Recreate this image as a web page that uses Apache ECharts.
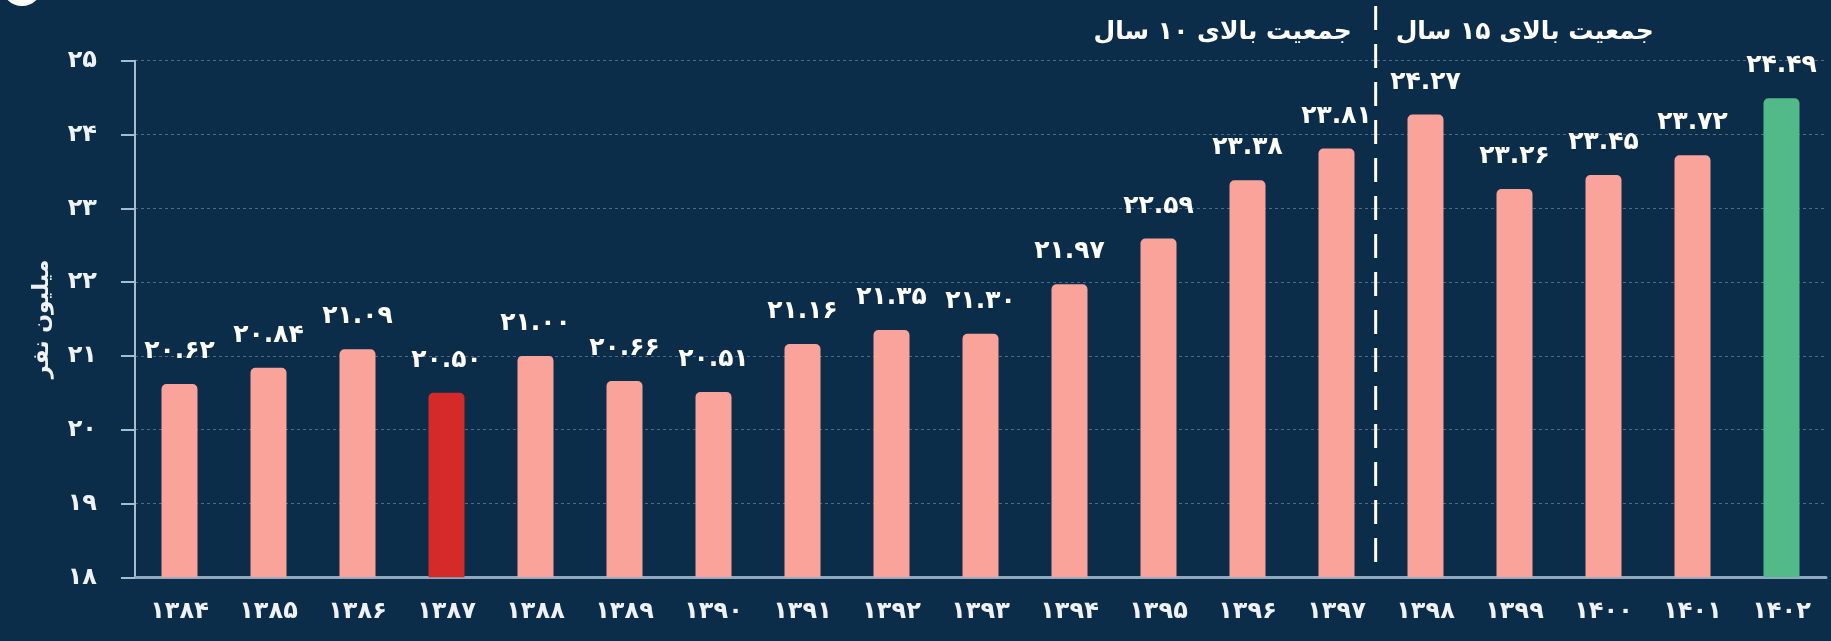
<!DOCTYPE html>
<html lang="fa">
<head>
<meta charset="utf-8">
<title>جمعیت</title>
<script src="https://cdn.jsdelivr.net/npm/echarts@6/dist/echarts.min.js"></script>
<style>
  html, body { margin: 0; padding: 0; background: #0c2d4a; }
  #chart { width: 1831px; height: 641px; }
</style>
</head>
<body>
<div id="chart"></div>
<script>
// Years (Solar Hijri), shown with Persian digits
const years = ['۱۳۸۴','۱۳۸۵','۱۳۸۶','۱۳۸۷','۱۳۸۸','۱۳۸۹','۱۳۹۰','۱۳۹۱','۱۳۹۲','۱۳۹۳',
               '۱۳۹۴','۱۳۹۵','۱۳۹۶','۱۳۹۷','۱۳۹۸','۱۳۹۹','۱۴۰۰','۱۴۰۱','۱۴۰۲'];
// Population, million people
const values = [20.62, 20.84, 21.09, 20.50, 21.00, 20.66, 20.51, 21.16, 21.35, 21.30,
                21.97, 22.59, 23.38, 23.81, 24.27, 23.26, 23.45, 23.72, 24.49];
// Y axis range and step
const yRange = [18, 25];
const yStep = 1;
// Highlighted years
const lowestYear = '۱۳۸۷';
const latestYear = '۱۴۰۲';
// Definition change: age threshold before and after the divider
const groupLabels = ['جمعیت بالای ۱۰ سال', 'جمعیت بالای ۱۵ سال'];
const lastOfFirstGroup = '۱۳۹۷';
const yAxisName = 'میلیون نفر';

const FONT = "'DejaVu Sans', 'Noto Sans', sans-serif";
const faDigits = '۰۱۲۳۴۵۶۷۸۹';
const toFa = s => String(s).replace(/[0-9]/g, d => faDigits[+d]);

const colorFor = y => y === lowestYear ? '#d42a2a' : (y === latestYear ? '#52ba88' : '#f9a39a');

const chart = echarts.init(document.getElementById('chart'), null, { renderer: 'canvas' });

chart.setOption({
  backgroundColor: '#0c2d4a',
  animation: false,
  grid: { left: 135, right: 5, top: 60.7, bottom: 63.7, containLabel: false },
  xAxis: {
    type: 'category',
    data: years,
    axisLine: { show: true, lineStyle: { color: '#8fa9c0', width: 3 } },
    axisTick: { show: false },
    axisLabel: { color: '#eef2f6', fontSize: 24, fontWeight: 'bold', fontFamily: FONT, margin: 22 }
  },
  yAxis: {
    type: 'value',
    min: yRange[0], max: yRange[1], interval: yStep,
    name: yAxisName,
    nameLocation: 'middle',
    nameRotate: 90,
    nameGap: 82,
    nameTextStyle: { color: '#eef2f6', fontSize: 22, fontWeight: 'bold', fontFamily: FONT },
    axisLine: { show: true, lineStyle: { color: '#a6bdd1', width: 2 } },
    axisTick: { show: true, length: 14, lineStyle: { color: '#a6bdd1', width: 2 } },
    axisLabel: {
      color: '#eef2f6', fontSize: 24, fontWeight: 'bold', fontFamily: FONT, margin: 38,
      align: 'right',
      formatter: v => toFa(v)
    },
    splitLine: { show: true, lineStyle: { color: '#4e6b87', width: 1, type: [3, 3] } }
  },
  series: [{
    type: 'bar',
    barWidth: 36,
    data: values.map((v, i) => ({ value: v, itemStyle: { color: colorFor(years[i]) } })),
    itemStyle: { borderRadius: [5, 5, 0, 0] },
    label: {
      show: true,
      position: 'top',
      distance: 20,
      color: '#ffffff',
      fontSize: 25,
      fontWeight: 'bold',
      fontFamily: FONT,
      formatter: p => toFa(p.value.toFixed(2))
    }
  }]
});

// Divider between the two population definitions, placed between category bands
function drawDivider() {
  const i = years.indexOf(lastOfFirstGroup);
  const x0 = chart.convertToPixel({ xAxisIndex: 0 }, i);
  const x1 = chart.convertToPixel({ xAxisIndex: 0 }, i + 1);
  const xd = x0 + (x1 - x0) * 0.44;
  const yBase = chart.convertToPixel({ yAxisIndex: 0 }, yRange[0]);
  chart.setOption({
    graphic: [
      {
        type: 'line', z: 10,
        shape: { x1: xd, y1: 6, x2: xd, y2: yBase - 2 },
        style: { stroke: '#ffffff', lineWidth: 3, lineDash: [24, 14] }
      },
      {
        type: 'text', z: 10,
        style: {
          x: xd - 24, y: 32, text: groupLabels[0], align: 'right', verticalAlign: 'middle',
          fill: '#ffffff', fontSize: 25, fontWeight: 'bold', fontFamily: FONT
        }
      },
      {
        type: 'text', z: 10,
        style: {
          x: xd + 20, y: 32, text: groupLabels[1], align: 'left', verticalAlign: 'middle',
          fill: '#ffffff', fontSize: 25, fontWeight: 'bold', fontFamily: FONT
        }
      },
      {
        // corner emblem fragment
        type: 'ring', z: 10,
        shape: { cx: 22, cy: -14, r: 20, r0: 12 },
        style: { fill: '#ffffff' }
      }
    ]
  });
}
drawDivider();
</script>
</body>
</html>
